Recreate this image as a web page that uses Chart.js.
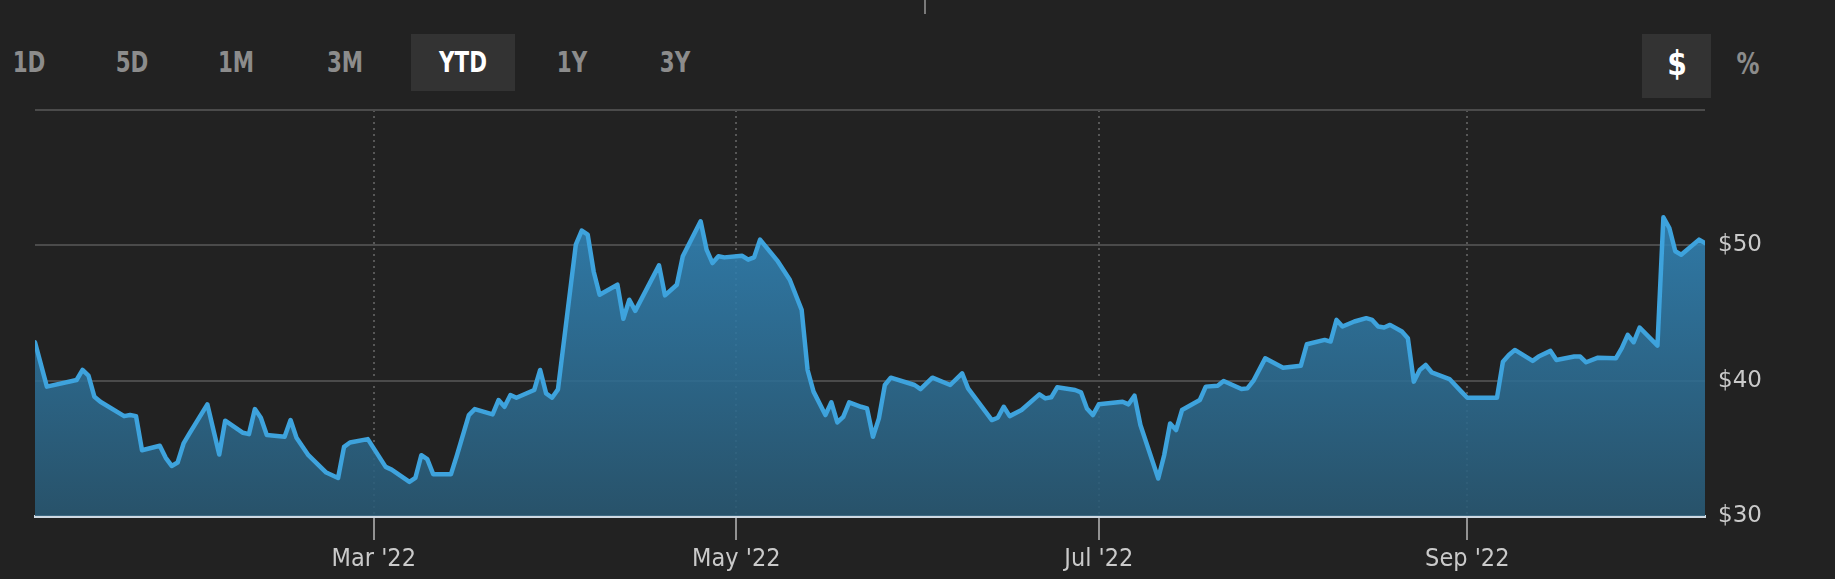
<!DOCTYPE html>
<html><head><meta charset="utf-8">
<script src="https://cdn.jsdelivr.net/npm/chart.js@4.4.1/dist/chart.umd.min.js"></script>
<style>
html,body{margin:0;padding:0;background:#222222;width:1835px;height:579px;overflow:hidden;}
canvas{position:absolute;left:0;top:0;}
.btn{position:absolute;top:49px;font-family:"DejaVu Sans Condensed","DejaVu Sans";font-weight:bold;font-size:28px;line-height:28px;color:#8c8c8c;white-space:nowrap;transform:translateX(-50%) scaleX(0.85);}
.bg{position:absolute;background:#333333;}
.act{color:#ffffff;}
#vline{position:absolute;left:924px;top:0;width:1.5px;height:14px;background:#7a7a7a;}
</style>
</head><body>
<div id="vline"></div>
<div class="bg" style="left:411px;top:34px;width:104px;height:57px;"></div>
<div class="bg" style="left:1642px;top:34px;width:69px;height:64px;"></div>
<div class="btn" style="left:28.6px;">1D</div>
<div class="btn" style="left:131.5px;">5D</div>
<div class="btn" style="left:235.5px;">1M</div>
<div class="btn" style="left:345px;">3M</div>
<div class="btn act" style="left:462.5px;">YTD</div>
<div class="btn" style="left:572px;">1Y</div>
<div class="btn" style="left:675px;">3Y</div>
<div class="btn act" style="left:1676.5px;top:47px;font-size:33px;line-height:33px;transform:translateX(-50%) scaleX(0.95);">$</div>
<div class="btn" style="left:1747.5px;top:49px;font-size:30px;line-height:30px;">%</div>
<canvas id="c" width="1835" height="579"></canvas>
<script>
// Days since 2022-01-03 (first trading day) and closing prices
const days = [0,2,7,8,9,10,11,15,16,17,18,21,22,23,24,25,26,29,31,32,35,36,37,38,39,42,43,44,46,49,51,52,53,56,59,60,63,64,65,66,67,70,
71,73,74,77,78,79,80,81,84,85,86,87,88,91,92,93,94,95,98,99,100,101,105,106,108,109,112,113,114,115,116,119,120,121,122,125,127,129,130,131,133,134,135,136,137,139,
140,141,142,143,144,148,149,151,154,156,157,161,162,163,164,166,169,170,171,172,175,176,177,178,179,183,184,185,186,189,190,191,192,193,196,197,199,200,203,204,205,207,
210,213,214,217,218,219,220,222,224,225,226,227,228,230,231,232,233,234,235,238,240,241,243,246,247,248,249,252,253,255,256,259,260,261,263,266,267,268,269,270,273,274,275,276,277,280,281];
const prices = [42.84,39.56,40.05,40.79,40.37,38.81,38.44,37.38,37.46,37.38,34.86,35.19,34.30,33.70,33.95,35.36,36.10,38.25,34.54,37.04,36.15,36.05,37.90,37.26,35.98,35.85,37.09,35.78,34.49,33.21,32.81,35.11,35.43,35.68,33.63,33.43,32.52,32.81,34.49,34.20,33.09,33.09,
34.49,37.46,37.90,37.51,38.57,38.07,38.94,38.74,39.31,40.79,39.06,38.74,39.36,50.05,51.09,50.79,48.07,46.35,47.09,44.57,45.98,45.16,48.52,46.30,47.09,49.19,51.78,49.68,48.69,49.19,49.11,49.23,48.94,49.11,50.42,48.81,47.46,45.23,40.79,39.19,37.46,38.40,36.91,37.33,38.40,38.07,
37.95,35.85,37.21,39.68,40.22,39.68,39.38,40.22,39.68,40.54,39.43,37.09,37.26,38.07,37.38,37.83,38.99,38.69,38.77,39.51,39.31,39.14,37.95,37.46,38.25,38.44,38.25,38.89,36.72,32.77,34.49,36.84,36.35,37.83,38.57,39.56,39.63,39.98,39.38,39.43,39.98,41.65,
40.96,41.11,42.69,43.01,42.89,44.49,44.00,44.37,44.62,44.49,44.00,43.93,44.12,43.63,43.14,39.93,40.79,41.16,40.62,40.12,39.19,38.74,38.74,38.74,41.40,41.90,42.27,41.46,41.78,42.20,41.53,41.78,41.78,41.36,41.70,41.65,42.40,43.38,42.84,43.93,42.59,52.07,51.28,49.56,49.31,50.42,50.17];
const tickDays = [57,118,179,241];
const tickLabels = ["Mar '22","May '22","Jul '22","Sep '22"];
const yTicks = [30,40,50,60];
const yLabels = ["$30","$40","$50",""];

const points = days.map((d,i)=>({x:d,y:prices[i]}));

new Chart(document.getElementById('c'),{
  type:'line',
  data:{datasets:[{
    data:points,
    borderColor:'#3ea3dd',
    borderWidth:4.5,
    pointRadius:0,
    tension:0,
    borderJoinStyle:'round',
    borderCapStyle:'round',
    fill:'start',
    backgroundColor(ctx){
      const a=ctx.chart.chartArea;
      if(!a) return 'rgba(47,122,166,0.88)';
      const g=ctx.chart.ctx.createLinearGradient(0,200,0,a.bottom);
      g.addColorStop(0,'rgba(50,136,189,0.88)');
      g.addColorStop(1,'rgba(41,89,116,0.88)');
      return g;
    }
  }]},
  options:{
    responsive:false,animation:false,events:[],
    layout:{padding:{left:35,top:110,right:0,bottom:0}},
    plugins:{legend:{display:false},tooltip:{enabled:false}},
    scales:{
      x:{type:'linear',min:0,max:281,z:1,
        afterFit(s){s.height=63;},
        afterBuildTicks(s){s.ticks=tickDays.map(v=>({value:v}));},
        ticks:{callback:(v,i)=>tickLabels[i],color:'#cacaca',font:{family:'DejaVu Sans Condensed',size:25},padding:4,maxRotation:0,autoSkip:false},
        grid:{color:'rgba(105,105,105,0.75)',lineWidth:2,drawTicks:true,tickLength:24,tickColor:'#b8b8b8',tickWidth:1.5,tickBorderDash:[]},
        border:{display:true,color:'#cfd9e2',width:3,dash:[2,4]}
      },
      y:{position:'right',min:30,max:60,
        afterFit(s){s.width=130;},
        afterBuildTicks(s){s.ticks=yTicks.map(v=>({value:v}));},
        ticks:{callback:(v,i)=>yLabels[i],color:'#cacaca',font:{family:'DejaVu Sans',size:23},padding:13},
        grid:{color:(c)=>(c.tick&&c.tick.value===30)?'rgba(0,0,0,0)':'#4b4b4b',lineWidth:2,drawTicks:false},
        border:{display:false}
      }
    }
  }
});
</script>
</body></html>
